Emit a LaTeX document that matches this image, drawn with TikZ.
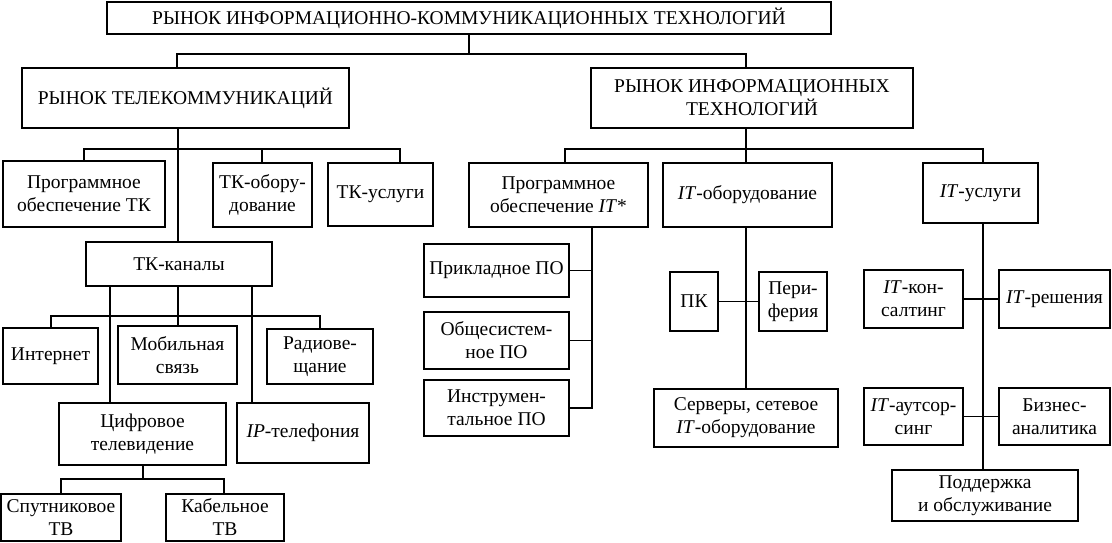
\documentclass[tikz,border=0pt]{standalone}
\usepackage{fontspec}
\setmainfont{Liberation Serif}
\begin{document}
\begin{tikzpicture}[x=1pt,y=-1pt,
  bx/.style={draw, line width=1.3pt, align=center, inner sep=0pt,
    font=\fontsize{19.5}{23}\selectfont},
  every path/.style={line width=1.3pt}]
\useasboundingbox (0,0) rectangle (1112,543);
\newcommand\mkbox[6]{\node[bx, minimum width={#4pt-#2pt}, minimum height={#5pt-#3pt}] (#1) at ({(#2+#4)/2},{(#3+#5)/2}) {#6};}
% level 0-1
\mkbox{top}{107}{2}{831}{34}{РЫНОК ИНФОРМАЦИОННО-КОММУНИКАЦИОННЫХ ТЕХНОЛОГИЙ}
\mkbox{tel}{22}{68}{349}{128}{РЫНОК ТЕЛЕКОММУНИКАЦИЙ}
\mkbox{it}{591}{68}{913}{128}{РЫНОК ИНФОРМАЦИОННЫХ\\ТЕХНОЛОГИЙ}
% telecom
\mkbox{potk}{3}{161}{165}{227}{Программное\\обеспечение ТК}
\mkbox{tko}{213}{163}{312}{227}{ТК-обору-\\дование}
\mkbox{tku}{328}{163}{433}{226}{ТК-услуги}
\mkbox{kan}{86}{242}{272}{286}{ТК-каналы}
\mkbox{inet}{3}{328}{98}{384}{Интернет}
\mkbox{mob}{118}{326}{237}{384}{Мобильная\\связь}
\mkbox{radio}{267}{329}{373}{384}{Радиове-\\щание}
\mkbox{cif}{59}{403}{226}{465}{Цифровое\\телевидение}
\mkbox{ipt}{237}{403}{369}{463}{\textit{IP}-телефония}
\mkbox{sat}{1}{494}{121}{541}{Спутниковое\\ТВ}
\mkbox{kab}{166}{494}{284}{541}{Кабельное\\ТВ}
% IT
\mkbox{poit}{469}{163}{648}{227}{Программное\\обеспечение \textit{IT}*}
\mkbox{itob}{663}{163}{832}{227}{\textit{IT}-оборудование}
\mkbox{itus}{923}{163}{1038}{223}{\textit{IT}-услуги}
\mkbox{prikl}{424}{244}{569}{297}{Прикладное ПО}
\mkbox{obsh}{424}{312}{569}{369}{Общесистем-\\ное ПО}
\mkbox{instr}{424}{380}{569}{436}{Инструмен-\\тальное ПО}
\mkbox{pk}{670}{272}{718}{331}{ПК}
\mkbox{per}{759}{272}{827}{331}{Пери-\\ферия}
\mkbox{serv}{654}{389}{838}{447}{Серверы, сетевое\\\textit{IT}-оборудование}
\mkbox{kons}{864}{270}{963}{328}{\textit{IT}-кон-\\салтинг}
\mkbox{resh}{999}{270}{1110}{328}{\textit{IT}-решения}
\mkbox{auts}{864}{388}{963}{445}{\textit{IT}-аутсор-\\синг}
\mkbox{biz}{999}{388}{1110}{445}{Бизнес-\\аналитика}
\mkbox{podd}{892}{470}{1078}{521}{Поддержка\\и обслуживание}
% coordinates
\coordinate (hA) at (177,54);
\coordinate (hB) at (746,54);
\coordinate (t0) at (178,149);
\coordinate (tL) at (84,149);
\coordinate (tM) at (262,149);
\coordinate (tR) at (400,149);
\coordinate (kx1) at (110,316);
\coordinate (kx2) at (178,316);
\coordinate (kx3) at (252,316);
\coordinate (kL) at (51,316);
\coordinate (kR) at (320,316);
\coordinate (c0) at (143,479);
\coordinate (cL) at (61,479);
\coordinate (cR) at (224,479);
\coordinate (iL) at (565,149);
\coordinate (iR) at (983,149);
\coordinate (p0) at (592,408);
% connectors
\draw (top.south) -- (top.south |- hA);
\draw (tel.north -| hA) -- (hA) -- (hB) -- (it.north -| hB);
\draw (tel.south -| t0) -- (kan.north -| t0);
\draw (potk.north -| tL) -- (tL) -- (tR) -- (tku.north -| tR);
\draw (tM) -- (tko.north -| tM);
\draw (kan.south -| kx1) -- (cif.north -| kx1);
\draw (kan.south -| kx2) -- (mob.north -| kx2);
\draw (kan.south -| kx3) -- (ipt.north -| kx3);
\draw (inet.north -| kL) -- (kL) -- (kR) -- (radio.north -| kR);
\draw (cif.south -| c0) -- (c0);
\draw (sat.north -| cL) -- (cL) -- (cR) -- (kab.north -| cR);
\draw (it.south -| hB) -- (hB |- iL);
\draw (poit.north -| iL) -- (iL) -- (iR) -- (itus.north -| iR);
\draw (hB |- iL) -- (itob.north -| hB);
\draw (poit.south -| p0) -- (p0) -- (instr.east);
\draw (prikl.east) -- (prikl.east -| p0);
\draw (obsh.east) -- (obsh.east -| p0);
\draw (itob.south -| hB) -- (serv.north -| hB);
\draw (pk.east) -- (per.west);
\draw (itus.south -| iR) -- (podd.north -| iR);
\draw (kons.east) -- (resh.west);
\draw (auts.east) -- (biz.west);
\end{tikzpicture}
\end{document}
